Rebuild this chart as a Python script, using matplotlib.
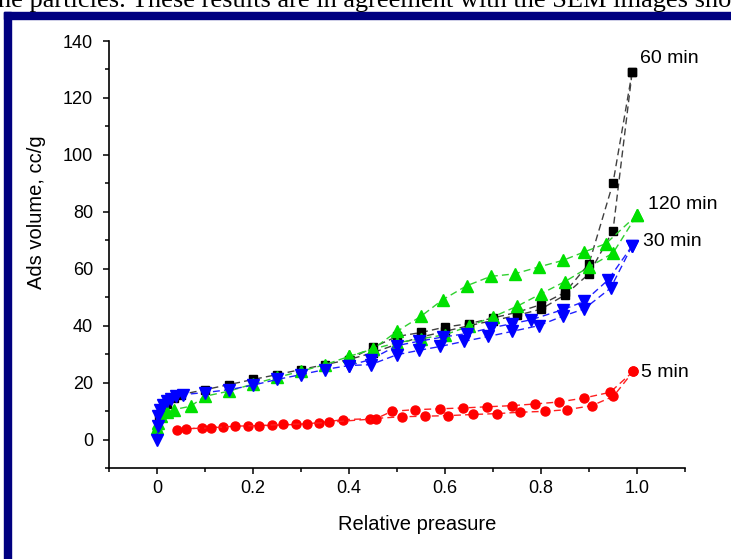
import matplotlib
matplotlib.use("Agg")
import matplotlib.pyplot as plt
from matplotlib.patches import Rectangle
from matplotlib.ticker import MultipleLocator

plt.rcParams['font.family'] = ['Liberation Sans', 'DejaVu Sans']

# 60 min sample (black squares)
p60_ads = [0.0, 0.005, 0.01, 0.02, 0.035, 0.05, 0.1, 0.15, 0.2, 0.25, 0.3, 0.35, 0.4,
           0.45, 0.5, 0.55, 0.6, 0.65, 0.7, 0.75, 0.8, 0.85, 0.9, 0.95, 0.99]
v60_ads = [3, 8, 10.5, 12.5, 14.5, 15.8, 17.5, 19.3, 21.1, 22.8, 24.6, 26.3, 28.1,
           30.5, 33.5, 36.0, 38.0, 40.0, 41.8, 43.6, 45.8, 50.8, 58.2, 73.4, 129.2]
p60_des = [0.99, 0.95, 0.9, 0.85, 0.8, 0.75, 0.7, 0.65, 0.6, 0.55, 0.5, 0.45, 0.4]
v60_des = [129.2, 90.1, 61.8, 51.7, 47.4, 44.7, 42.7, 40.7, 39.5, 37.6, 36.2, 32.4, 28.1]

# 120 min sample (green triangles)
p120_ads = [0.0, 0.003, 0.008, 0.02, 0.035, 0.07, 0.1, 0.15, 0.2, 0.25, 0.3, 0.35, 0.4,
            0.45, 0.5, 0.55, 0.6, 0.65, 0.7, 0.75, 0.8, 0.85, 0.9, 0.95, 1.0]
v120_ads = [4.1, 5.9, 8.2, 9.5, 10.5, 11.7, 15.2, 17.0, 19.5, 21.8, 24.0, 26.3, 29.2,
            31.8, 34.0, 35.4, 36.8, 39.8, 43.1, 46.8, 51.2, 55.5, 60.6, 65.5, 78.9]
p120_des = [1.0, 0.935, 0.89, 0.845, 0.795, 0.745, 0.695, 0.645, 0.595, 0.55, 0.5, 0.45, 0.4]
v120_des = [78.9, 68.8, 65.9, 62.9, 60.6, 58.2, 57.3, 54.0, 49.1, 43.3, 38.0, 31.8, 29.2]

# 30 min sample (blue down triangles)
p30_ads = [0.0, 0.0015, 0.003, 0.006, 0.012, 0.02, 0.03, 0.04, 0.055, 0.1, 0.15, 0.2,
           0.25, 0.3, 0.35, 0.4, 0.445, 0.5, 0.545, 0.59, 0.64, 0.69, 0.74, 0.795,
           0.845, 0.89, 0.945, 0.99]
v30_ads = [0.0, 4.7, 8.2, 10.5, 12.3, 13.4, 14.3, 15.2, 15.8, 16.5, 17.5, 19.1,
           21.1, 22.8, 24.6, 26.0, 26.3, 29.8, 31.3, 32.7, 34.5, 36.2, 38.0, 40.0,
           43.3, 45.9, 53.2, 68.1]
p30_des = [0.99, 0.94, 0.89, 0.845, 0.78, 0.74, 0.695, 0.645, 0.595, 0.545, 0.5, 0.445, 0.4]
v30_des = [68.1, 56.1, 48.5, 45.6, 42.1, 40.7, 39.2, 37.2, 36.0, 34.5, 33.0, 28.1, 26.0]

# 5 min sample (red circles)
p5_ads = [0.041, 0.093, 0.138, 0.19, 0.239, 0.29, 0.338, 0.388, 0.444, 0.51, 0.558,
          0.607, 0.658, 0.708, 0.756, 0.808, 0.855, 0.906, 0.951, 0.992]
v5_ads = [3.5, 4.1, 4.5, 4.7, 5.0, 5.3, 5.9, 7.0, 7.3, 8.0, 8.2,
          8.4, 8.8, 9.1, 9.6, 9.9, 10.5, 11.9, 15.2, 23.9]
p5_des = [0.992, 0.944, 0.89, 0.838, 0.788, 0.739, 0.687, 0.638, 0.59, 0.537, 0.489,
          0.456, 0.359, 0.312, 0.262, 0.213, 0.163, 0.112, 0.06]
v5_des = [23.9, 16.6, 14.6, 13.2, 12.5, 11.9, 11.5, 11.1, 10.8, 10.5, 9.9,
          7.3, 6.1, 5.5, 5.3, 4.9, 4.7, 4.1, 3.8]

labels = ["60 min", "120 min", "30 min", "5 min"]
label_pos = [(1.006, 134), (1.023, 82.5), (1.013, 69.5), (1.008, 23.5)]

fig = plt.figure(figsize=(7.31, 5.59), dpi=100)

# frame of the scanned page
fig.patches.append(Rectangle((4 / 731, 0), 7 / 731, 1 - 12 / 559,
                             transform=fig.transFigure, color='#000080', zorder=0))
fig.patches.append(Rectangle((4 / 731, 1 - 19 / 559), 1, 7 / 559,
                             transform=fig.transFigure, color='#000080', zorder=0))
fig.text(-2 / 731, 1 - 7 / 559,
         "he particles. These results are in agreement with the SEM images sho",
         family='Liberation Serif', fontsize=19, va='baseline', ha='left')

ax = fig.add_axes([109 / 731, 1 - 468 / 559, 576 / 731, 427 / 559])

dash = (0, (5, 3))
series = [
    (p5_ads, v5_ads, p5_des, v5_des, 'o', '#ff0000', '#ff2020', 6.5),
    (p60_ads, v60_ads, p60_des, v60_des, 's', '#000000', '#404040', 6.2),
    (p120_ads, v120_ads, p120_des, v120_des, '^', '#00e000', '#30d030', 8),
    (p30_ads, v30_ads, p30_des, v30_des, 'v', '#0000ff', '#2020ff', 8),
]
for xa, ya, xd, yd, m, c, lc, ms in series:
    for xs, ys in ((xa, ya), (xd, yd)):
        ax.plot(xs, ys, color=lc, lw=1, ls=dash)
        ax.plot(xs, ys, ls='none', marker=m, ms=ms, color=c, mec=c)

for txt, (tx, ty) in zip(labels, label_pos):
    ax.text(tx, ty, txt, fontsize=14, ha='left', va='center', clip_on=False)

ax.set_xlim(-0.1, 1.1)
ax.set_ylim(-10, 140)
ax.xaxis.set_minor_locator(MultipleLocator(0.1))
ax.yaxis.set_minor_locator(MultipleLocator(10))
ax.set_xticks([0, 0.2, 0.4, 0.6, 0.8, 1.0])
ax.set_xticklabels(["0", "0.2", "0.4", "0.6", "0.8", "1.0"])
ax.set_yticks([0, 20, 40, 60, 80, 100, 120, 140])

ax.spines['top'].set_visible(False)
ax.spines['right'].set_visible(False)
ax.spines['left'].set_linewidth(1.2)
ax.spines['bottom'].set_linewidth(1.2)
ax.tick_params(which='major', direction='out', length=4.5, width=1.1, labelsize=13, pad=4)
ax.tick_params(which='minor', direction='out', length=3, width=1.1)
ax.tick_params(axis='y', which='major', pad=7)

ax.set_xlabel("Relative preasure", fontsize=14.5)
ax.xaxis.set_label_coords(0.535, -0.11)
ax.set_ylabel("Ads volume, cc/g", fontsize=14.5)
ax.yaxis.set_label_coords(-0.11, 0.6)

fig.savefig("out.png", dpi=100)
